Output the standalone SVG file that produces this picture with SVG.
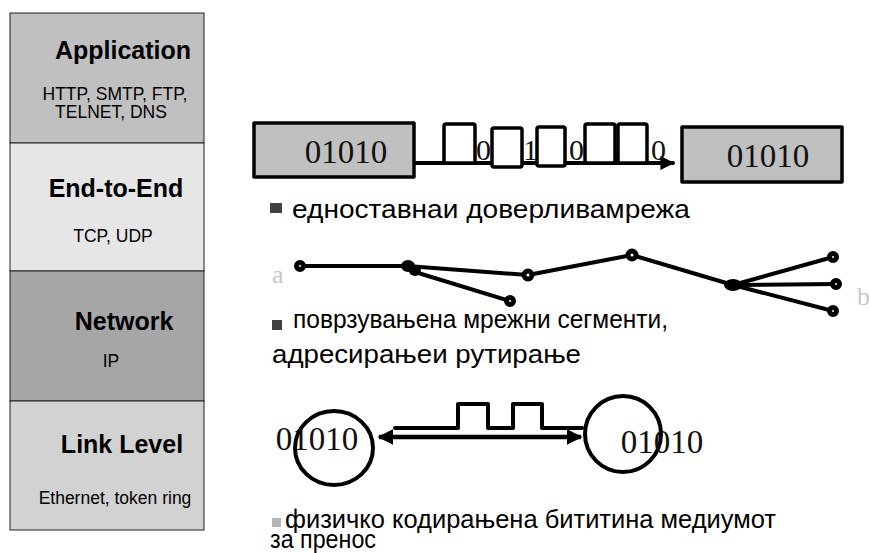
<svg xmlns="http://www.w3.org/2000/svg" width="869" height="553" viewBox="0 0 869 553">
  <defs>
    <style>
      .layer { stroke: #202020; stroke-width: 1; }
      .title { font-family: "Liberation Sans", Arial, sans-serif; font-weight: bold; font-size: 25px; fill: #000; text-anchor: middle; }
      .proto { font-family: "Liberation Sans", Arial, sans-serif; font-size: 17.5px; fill: #000; text-anchor: middle; }
      .bits { font-family: "Liberation Serif", "Times New Roman", serif; font-size: 33px; fill: #111; }
      .wbit { font-family: "Liberation Serif", "Times New Roman", serif; font-size: 30px; fill: #111; }
      .note { font-family: "Liberation Sans", Arial, sans-serif; font-size: 25.5px; fill: #000; }
      .ends { font-family: "Liberation Serif", "Times New Roman", serif; font-size: 26px; fill: #c8c8c8; }
      .frame { fill: #c0c0c0; stroke: #000; stroke-width: 3.5; stroke-linejoin: round; }
      .pulse { fill: #fff; stroke: #000; stroke-width: 3.5; stroke-linejoin: round; }
      .wire { stroke: #000; stroke-width: 4; fill: none; stroke-linecap: round; stroke-linejoin: round; }
      .end { fill: #fff; stroke: #000; stroke-width: 5; }
      .hub { fill: #000; }
    </style>
    <marker id="tip" viewBox="0 0 10 10" refX="9" refY="5" markerWidth="3.5" markerHeight="3.5" orient="auto-start-reverse">
      <path d="M0,0 L10,5 L0,10 z" fill="#000"/>
    </marker>
  </defs>

  <!-- protocol stack -->
  <g id="layer-application">
    <rect class="layer" x="10" y="13" width="194" height="130" fill="#c0c0c0"/>
    <text class="title" x="123" y="59">Application</text>
    <text class="proto" x="115" y="100">HTTP, SMTP, FTP,</text>
    <text class="proto" x="111" y="118">TELNET, DNS</text>
  </g>
  <g id="layer-end-to-end">
    <rect class="layer" x="10" y="143" width="194" height="128" fill="#e6e6e6"/>
    <text class="title" x="116" y="197">End-to-End</text>
    <text class="proto" x="113" y="242">TCP, UDP</text>
  </g>
  <g id="layer-network">
    <rect class="layer" x="10" y="271" width="194" height="130" fill="#a6a6a6"/>
    <text class="title" x="124" y="330">Network</text>
    <text class="proto" x="111" y="367">IP</text>
  </g>
  <g id="layer-link">
    <rect class="layer" x="10" y="401" width="194" height="129" fill="#d2d2d2"/>
    <text class="title" x="122" y="453">Link Level</text>
    <text class="proto" x="115" y="504">Ethernet, token ring</text>
  </g>

  <!-- links between hosts, routers and stations -->
  <g id="connectors">
    <line class="wire" x1="414" y1="163" x2="673" y2="163" stroke-linecap="butt" marker-end="url(#tip)"/>
    <polyline class="wire" points="528,275 632,255 733,285"/>
    <line class="wire" x1="300" y1="266" x2="407" y2="266"/>
    <line class="wire" x1="407" y1="266" x2="528" y2="275"/>
    <line class="wire" x1="415" y1="272" x2="510" y2="301"/>
    <line class="wire" x1="733" y1="285" x2="833" y2="257"/>
    <line class="wire" x1="733" y1="285" x2="836" y2="284"/>
    <line class="wire" x1="733" y1="285" x2="833" y2="311"/>
    <polyline class="wire" points="395,428 458,428 458,404 488,404 488,428 513,428 513,404 542,404 542,428 582,428"/>
    <line x1="379" y1="437" x2="581" y2="437" stroke="#000" stroke-width="4.5" marker-start="url(#tip)" marker-end="url(#tip)"/>
  </g>

  <!-- end-to-end: two hosts exchanging a bit stream -->
  <g id="host-left">
    <rect class="frame" x="254" y="123" width="160" height="54"/>
    <text class="bits" x="346" y="163" text-anchor="middle">01010</text>
  </g>
  <g id="bit-stream">
    <text class="wbit" x="476" y="160">0</text>
    <text class="wbit" x="523" y="160">1</text>
    <text class="wbit" x="569" y="160">0</text>
    <text class="wbit" x="610" y="160">1</text>
    <text class="wbit" x="651" y="160">0</text>
    <rect class="pulse" x="444" y="124" width="31" height="39" rx="2"/>
    <rect class="pulse" x="492" y="128" width="30" height="39" rx="2"/>
    <rect class="pulse" x="537" y="127" width="28" height="39" rx="2"/>
    <rect class="pulse" x="585" y="124" width="30" height="39" rx="2"/>
    <rect class="pulse" x="618" y="124" width="29" height="39" rx="2"/>
  </g>
  <g id="host-right">
    <rect class="frame" x="682" y="127" width="160" height="55"/>
    <text class="bits" x="768" y="167" text-anchor="middle">01010</text>
  </g>
  <g id="caption-1">
    <rect x="270" y="203" width="12" height="10" fill="#404040"/>
    <text class="note" x="292" y="218" textLength="398" lengthAdjust="spacingAndGlyphs">едноставнаи  доверливамрежа</text>
  </g>

  <!-- network: routed segments between a and b -->
  <g id="routers">
    <ellipse class="hub" cx="408" cy="266" rx="7" ry="6"/>
    <ellipse class="hub" cx="415" cy="271" rx="6" ry="5"/>
    <circle class="end" cx="300" cy="266" r="3.5"/>
    <circle class="end" cx="510" cy="301" r="3.5"/>
    <circle class="end" cx="528" cy="275" r="4"/>
    <circle class="end" cx="632" cy="255" r="4"/>
    <ellipse class="hub" cx="733" cy="285" rx="9" ry="6"/>
    <circle class="end" cx="833" cy="257" r="3.5"/>
    <circle class="end" cx="836" cy="284" r="3.5"/>
    <circle class="end" cx="833" cy="311" r="3.5"/>
  </g>
  <g id="label-a"><text class="ends" x="272" y="283">a</text></g>
  <g id="label-b"><text class="ends" x="857" y="305">b</text></g>
  <g id="caption-2">
    <rect x="272" y="320" width="10" height="10" fill="#404040"/>
    <text class="note" x="293" y="328" textLength="375" lengthAdjust="spacingAndGlyphs">поврзувањена  мрежни  сегменти,</text>
    <text class="note" x="272" y="363" textLength="309" lengthAdjust="spacingAndGlyphs">адресирањеи  рутирање</text>
  </g>

  <!-- link level: signal on the medium -->
  <g id="station-left">
    <ellipse cx="334" cy="448" rx="39" ry="37" fill="none" stroke="#000" stroke-width="4"/>
    <text class="bits" x="317" y="450" text-anchor="middle">01010</text>
  </g>
  <g id="station-right">
    <circle cx="623" cy="434" r="38" fill="none" stroke="#000" stroke-width="4"/>
    <text class="bits" x="662" y="453" text-anchor="middle">01010</text>
  </g>
  <g id="caption-3">
    <rect x="272" y="518" width="9" height="9" fill="#b4b4b4"/>
    <text class="note" x="285" y="528" textLength="491" lengthAdjust="spacingAndGlyphs">физичко кодирањена бититина  медиумот</text>
    <text class="note" x="270" y="548" textLength="106" lengthAdjust="spacingAndGlyphs">за  пренос</text>
  </g>
</svg>
